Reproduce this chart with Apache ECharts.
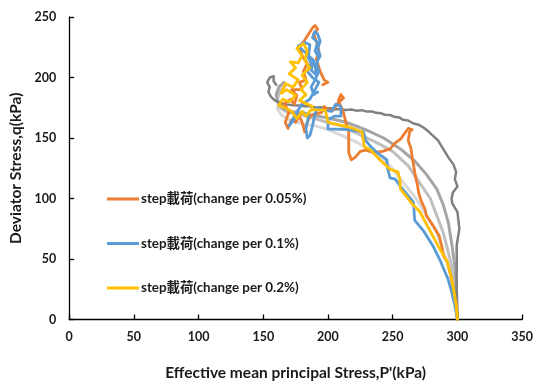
<!DOCTYPE html>
<html>
<head>
<meta charset="utf-8">
<script src="https://cdn.jsdelivr.net/npm/echarts@6/dist/echarts.min.js"></script>
<style>
  html, body { margin: 0; padding: 0; background: #fff; }
  #chart { width: 536px; height: 386px; }
</style>
</head>
<body>
<div id="chart"></div>
<script>
// Stress paths in p'-q space, each point is [p' (kPa), q (kPa)]

// Reference monotonic paths (gray)
const pathGrayDark = [
  [300,0],[299.5,15],[299.4,34],[299.5,50],[299.4,61],[301.5,75],[300,89],[296,96],[295.5,100],
  [296.5,105],[300,110],[298,116],[299,122],[297,128],[293,134],[289,141],[285,148],[281,152],
  [277,156],[274,158.5],[270,161],[266,162],[262,164.5],[258,165],[255,167],[251,167.6],[248,169],
  [244,169.2],[241,170.4],[237,170.8],[234,172],[230,171.8],[226,173],[222,172.6],[218,173.6],
  [214,173.2],[210,174],[206,173.7],[202,174.6],[198,174.8],[194,175.4],[190,175.3],[186,176.2],
  [182,176.3],[178,176.8],[173,177],[168,177.8],[163,179],[159,181],[156,184],[154,188],[155,192],
  [153,196],[155,200],[158,201],[158,197],[160,194]
];
const pathGrayMid = [
  [300,0],[299.5,20],[298.5,40],[296,60],[293,80],[289,95],[284,108],[276,120],[267,131],
  [256,141],[243,150],[229,157],[214,163],[198,167],[182,170],[172,172],[165,175],[161,180],
  [160,186],[162,192],[166,196]
];
const pathGrayLight = [
  [300,0],[298.5,20],[295.5,45],[289,72],[279,100],[262,127],[250,139],[238,146],[224,153],
  [210,160],[196,164],[184,168],[174,170],[167,172],[162,176],[161,183],[163,189],[167,193]
];
const pathGrayPale = [
  [300,0],[297.5,22],[293,45],[284,72],[268,100],[248,127],[235,138],[223,146],[211,152],
  [200,157],[190,160],[180,162],[170,165],[164,169],[161,174],[162,180]
];

// Step loading, change per 0.05%
const pathStep005 = [
  [300,0],[299,12],[297,25],[295,36],[292,48],[289,53],[288,60],[286,69],[281,78],[276,86],
  [275,91],[272,98],[270,105],[269,112],[268,116],[267,122],[266,128],[265,135],[264,142],
  [262,148],[263,155],[265,157],[262,158],[260,155],[258,152],[256,149],[252,146],[248,141],
  [242,139],[235,138],[229,140],[225,139],[221,134],[218,132],[216,138],[216,146],[216,155],
  [214,162],[212,171],[210,176],[208,181],[210,186],[212,183],[207,178],[204,173],[200,173.5],
  [197,176],[195,171],[190,170],[186,168],[183,160],[182,155],[180,163],[178,168],[175,163],
  [172,165],[169,158],[167,163],[170,172],[166,178],[171,182],[174,178],[176,185],[172,190],
  [180,190],[178,196],[183,198],[181,205],[184,212],[180,218],[178,225],[182,231],[185,236],
  [188,241],[190,243],[192,240],[189,236],[191,230],[193,222],[191,215],[194,205],[197,198],
  [200,196],[196,194]
];

// Step loading, change per 0.1%
const pathStep01 = [
  [300,0],[298,12],[295,25],[292.5,34],[287,48],[281,61],[274,73],[267,82],[266,97],[256,110],
  [252,116],[248,117],[246,125],[245.5,132],[238,138],[233,143],[229,148],[227.5,155],[215,157],
  [200,157.5],[200,165],[205,168],[210,168],[210,176],[206,178],[203,172],[196,173],[192,175],
  [190,170],[188,160],[186,152],[184,150],[183,158],[185,168],[180,172],[176,168],[172,163],
  [170,160],[175,170],[180,178],[186,182],[190,190],[193,196],[188,200],[184,205],[187,212],
  [183,220],[177,226],[182,229],[186,227],[185,218],[189,214],[187,206],[191,202],[190,210],
  [193,216],[190,222],[192,229],[188,233],[190,238],[192,236],[194,230],[192,224],[194,218],
  [191,212],[193,205],[190,198],[187,192],[189,186],[192,188]
];

// Step loading, change per 0.2%
const pathStep02 = [
  [300,0],[299,12],[297,25],[295.5,34],[292,48],[285,61],[278,75],[271,89],[265.5,95],[256,108],
  [255.5,116],[254,122],[248,124],[240,132],[233,140],[228,143],[227,150],[226.5,155],[218,158.5],
  [208,161],[200,163],[199,168],[198,173],[187,173.5],[183,168],[180,172],[176,166],[172,172],
  [167,175],[162,177],[165,182],[170,180],[175,185],[168,190],[164,187],[167,195],[173,192],
  [177,198],[170,203],[175,208],[171,213],[177,212],[180,218],[176,224],[181,228],[184,222],
  [182,214],[186,208],[180,202],[184,196],[179,190],[183,186],[178,181],[184,178],[188,176]
];

const legendNames = [
  'step載荷(change per 0.05%)',
  'step載荷(change per 0.1%)',
  'step載荷(change per 0.2%)'
];
const xTicks = [0, 350, 50];   // min, max, interval
const yTicks = [0, 250, 50];

const FONT = "Lato, 'Noto Sans CJK TC', sans-serif";

function pathSeries(name, data, color, width) {
  return {
    name: name,
    type: 'line',
    data: data,
    symbol: 'none',
    showSymbol: false,
    smooth: false,
    silent: true,
    animation: false,
    lineStyle: { color: color, width: width, join: 'round', cap: 'round' },
    itemStyle: { color: color }
  };
}

const chart = echarts.init(document.getElementById('chart'), null, { renderer: 'canvas' });
chart.setOption({
  backgroundColor: '#ffffff',
  animation: false,
  grid: { left: 66, right: 13, top: 17, bottom: 65 },
  legend: {
    data: legendNames,
    orient: 'vertical',
    left: 102,
    top: 186,
    icon: 'rect',
    itemWidth: 32,
    itemHeight: 3,
    itemGap: 28.5,
    textStyle: { fontFamily: FONT, fontWeight: 'bold', fontSize: 13.4, color: '#1a1a1a', lineHeight: 16, padding: [0, 0, 0, -3] }
  },
  xAxis: {
    type: 'value',
    min: xTicks[0], max: xTicks[1], interval: xTicks[2],
    name: "Effective mean principal Stress,P'(kPa)",
    nameLocation: 'middle',
    nameGap: 46,
    nameTextStyle: { fontFamily: FONT, fontWeight: 'bold', fontSize: 15.5, color: '#1a1a1a' },
    axisLine: { lineStyle: { color: '#000', width: 1.3 } },
    axisTick: { inside: true, length: 5, lineStyle: { color: '#000', width: 1.3 } },
    axisLabel: { fontFamily: FONT, fontWeight: 'bold', fontSize: 12.5, color: '#1a1a1a', margin: 11 },
    splitLine: { show: false }
  },
  yAxis: {
    type: 'value',
    min: yTicks[0], max: yTicks[1], interval: yTicks[2],
    name: 'Deviator Stress,q(kPa)',
    nameLocation: 'middle',
    nameGap: 41,
    nameTextStyle: { fontFamily: FONT, fontWeight: 'bold', fontSize: 15.5, color: '#1a1a1a' },
    axisLine: { show: true, lineStyle: { color: '#000', width: 1.3 } },
    axisTick: { show: true, inside: true, length: 5, lineStyle: { color: '#000', width: 1.3 } },
    axisLabel: { fontFamily: FONT, fontWeight: 'bold', fontSize: 12.5, color: '#1a1a1a', margin: 13 },
    splitLine: { show: false }
  },
  series: [
    pathSeries('pale', pathGrayPale, '#d9d9d9', 3),
    pathSeries('light', pathGrayLight, '#bfbfbf', 3),
    pathSeries('mid', pathGrayMid, '#a5a5a5', 3),
    pathSeries('dark', pathGrayDark, '#808080', 2.5),
    pathSeries(legendNames[0], pathStep005, '#ed7d31', 2.8),
    pathSeries(legendNames[1], pathStep01, '#5b9bd5', 2.8),
    pathSeries(legendNames[2], pathStep02, '#ffc000', 2.8)
  ]
});
</script>
</body>
</html>
